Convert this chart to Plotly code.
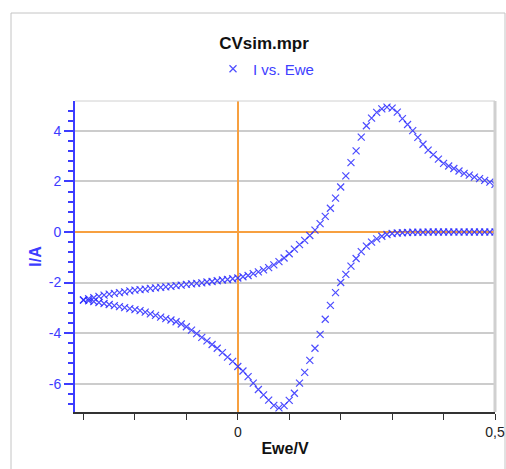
import plotly.graph_objects as go

# Forward scan (E increasing)
E_fwd = [-0.30, -0.29, -0.28, -0.27, -0.26, -0.25, -0.24, -0.23, -0.22, -0.21,
         -0.20, -0.19, -0.18, -0.17, -0.16, -0.15, -0.14, -0.13, -0.12, -0.11,
         -0.10, -0.09, -0.08, -0.07, -0.06, -0.05, -0.04, -0.03, -0.02, -0.01,
         0.00, 0.01, 0.02, 0.03, 0.04, 0.05, 0.06, 0.07, 0.08, 0.09,
         0.10, 0.11, 0.12, 0.13, 0.14, 0.15, 0.16, 0.17, 0.18, 0.19,
         0.20, 0.21, 0.22, 0.23, 0.24, 0.25, 0.26, 0.27, 0.28, 0.29,
         0.30, 0.31, 0.32, 0.33, 0.34, 0.35, 0.36, 0.37, 0.38, 0.39,
         0.40, 0.41, 0.42, 0.43, 0.44, 0.45, 0.46, 0.47, 0.48, 0.49, 0.50]
I_fwd = [-2.69, -2.64, -2.60, -2.55, -2.50, -2.46, -2.43, -2.40, -2.37, -2.33,
         -2.30, -2.28, -2.26, -2.23, -2.21, -2.19, -2.17, -2.15, -2.12, -2.10,
         -2.07, -2.05, -2.03, -2.01, -1.98, -1.96, -1.93, -1.90, -1.88, -1.85,
         -1.82, -1.77, -1.72, -1.65, -1.58, -1.50, -1.41, -1.30, -1.17, -1.03,
         -0.86, -0.68, -0.50, -0.33, -0.14, 0.07, 0.33, 0.62, 0.94, 1.34,
         1.78, 2.22, 2.74, 3.21, 3.75, 4.20, 4.50, 4.73, 4.87, 4.94,
         4.90, 4.74, 4.48, 4.25, 4.01, 3.74, 3.47, 3.24, 3.06, 2.88,
         2.71, 2.61, 2.51, 2.41, 2.32, 2.25, 2.17, 2.11, 2.04, 1.97, 1.88]

# Reverse scan (E decreasing)
E_rev = [0.50, 0.49, 0.48, 0.47, 0.46, 0.45, 0.44, 0.43, 0.42, 0.41,
         0.40, 0.39, 0.38, 0.37, 0.36, 0.35, 0.34, 0.33, 0.32, 0.31,
         0.30, 0.29, 0.28, 0.27, 0.26, 0.25, 0.24, 0.23, 0.22, 0.21,
         0.20, 0.19, 0.18, 0.17, 0.16, 0.15, 0.14, 0.13, 0.12, 0.11,
         0.10, 0.09, 0.08, 0.07, 0.06, 0.05, 0.04, 0.03, 0.02, 0.01,
         0.00, -0.01, -0.02, -0.03, -0.04, -0.05, -0.06, -0.07, -0.08, -0.09,
         -0.10, -0.11, -0.12, -0.13, -0.14, -0.15, -0.16, -0.17, -0.18, -0.19,
         -0.20, -0.21, -0.22, -0.23, -0.24, -0.25, -0.26, -0.27, -0.28, -0.29, -0.30]
I_rev = [0.00, 0.00, 0.00, 0.00, 0.00, 0.00, 0.00, 0.00, 0.00, 0.00,
         0.00, 0.00, 0.00, 0.00, -0.01, -0.01, -0.01, -0.02, -0.03, -0.04,
         -0.06, -0.10, -0.17, -0.27, -0.40, -0.56, -0.78, -1.05, -1.35, -1.68,
         -2.00, -2.40, -2.90, -3.45, -4.05, -4.60, -5.08, -5.55, -5.98, -6.38,
         -6.66, -6.87, -6.96, -6.86, -6.65, -6.44, -6.23, -5.98, -5.72, -5.50,
         -5.32, -5.12, -4.95, -4.77, -4.60, -4.45, -4.31, -4.17, -4.02, -3.88,
         -3.75, -3.64, -3.55, -3.48, -3.43, -3.37, -3.30, -3.24, -3.17, -3.11,
         -3.07, -3.03, -2.99, -2.95, -2.91, -2.87, -2.83, -2.79, -2.75, -2.72, -2.69]

E_all = E_fwd + E_rev
I_all = I_fwd + I_rev

y_ticks = [-6, -4, -2, 0, 2, 4]
y_ticktext = ["-6", "-4", "-2", "0", "2", "4"]
x_ticks = [0, 0.5]
x_ticktext = ["0", "0,5"]
x_minor = [-0.3, -0.2, -0.1, 0.1, 0.2, 0.3, 0.4]

BLUE = "#3c3cff"
MARK = "rgba(45,45,255,0.85)"
FONT = "Liberation Sans"

W, H = 506, 469
L, T = 75, 101
PW, PH = 420, 311


def px(xs):
    return (xs - L) / PW


def py(ys):
    return (T + PH - ys) / PH


fig = go.Figure()
fig.add_trace(go.Scatter(
    x=E_all, y=I_all, mode="markers", name="I vs. Ewe",
    marker=dict(symbol="x-thin", size=7, line=dict(width=1.2, color=MARK), color=MARK),
))

fig.update_layout(
    width=W, height=H,
    margin=dict(l=L, r=W - L - PW, t=T, b=H - T - PH, autoexpand=False),
    paper_bgcolor="white", plot_bgcolor="white",
    font=dict(family=FONT, size=12),
    title=dict(text="<b>CVsim.mpr</b>", x=264 / W, xanchor="center",
               y=1 - 43 / H, yanchor="middle",
               font=dict(size=17, color="#111111", family=FONT)),
    showlegend=True,
    legend=dict(orientation="h", xref="container", yref="container",
                x=266 / W, xanchor="center",
                y=1 - 69 / H, yanchor="middle",
                font=dict(size=15, color="#4040ff", family=FONT),
                bgcolor="rgba(0,0,0,0)"),
    xaxis=dict(range=[-0.3165, 0.5], tickmode="array", tickvals=x_ticks, ticktext=x_ticktext,
               automargin=False,
               ticks="outside", ticklen=6, tickcolor="#333333", tickwidth=1,
               showline=True, linecolor="#333333", linewidth=1.5,
               showgrid=False, zeroline=True, zerolinecolor="#f7a040", zerolinewidth=1.5,
               tickfont=dict(size=14, color="#222222"),
               minor=dict(tickmode="array", tickvals=x_minor, ticks="outside", ticklen=6,
                          tickcolor="#333333", tickwidth=1, showgrid=False),
               title=dict(text="<b>Ewe/V</b>", font=dict(size=16, color="#111111"), standoff=4)),
    yaxis=dict(range=[-7.12, 5.18], tickmode="array", tickvals=y_ticks, ticktext=y_ticktext,
               automargin=False,
               ticks="outside", ticklen=9, tickcolor=BLUE, tickwidth=1.5,
               showline=True, linecolor=BLUE, linewidth=2,
               showgrid=True, gridcolor="#cccccc", gridwidth=1.5,
               zeroline=True, zerolinecolor="#f7a040", zerolinewidth=1.5,
               tickfont=dict(size=14, color=BLUE),
               minor=dict(dtick=0.4, tick0=0, ticks="outside", ticklen=5, tickcolor=BLUE,
                          tickwidth=1.5, showgrid=False),
               title=dict(text="<b>I/A</b>", font=dict(size=16, color=BLUE), standoff=3)),
    shapes=[
        dict(type="rect", xref="paper", yref="paper",
             x0=px(11), x1=px(505), y0=-0.3, y1=py(13),
             line=dict(color="#c4c4c4", width=1), layer="below"),
        dict(type="line", xref="paper", yref="paper", x0=0, x1=1, y0=1, y1=1,
             line=dict(color="#d0d0d0", width=1)),
        dict(type="line", xref="paper", yref="paper", x0=1, x1=1, y0=0, y1=1,
             line=dict(color="#d0d0d0", width=3)),
    ],
)

fig.write_html("out.html", config={"displayModeBar": False},
               post_script="document.body.style.margin='0';document.body.style.overflow='hidden';")
